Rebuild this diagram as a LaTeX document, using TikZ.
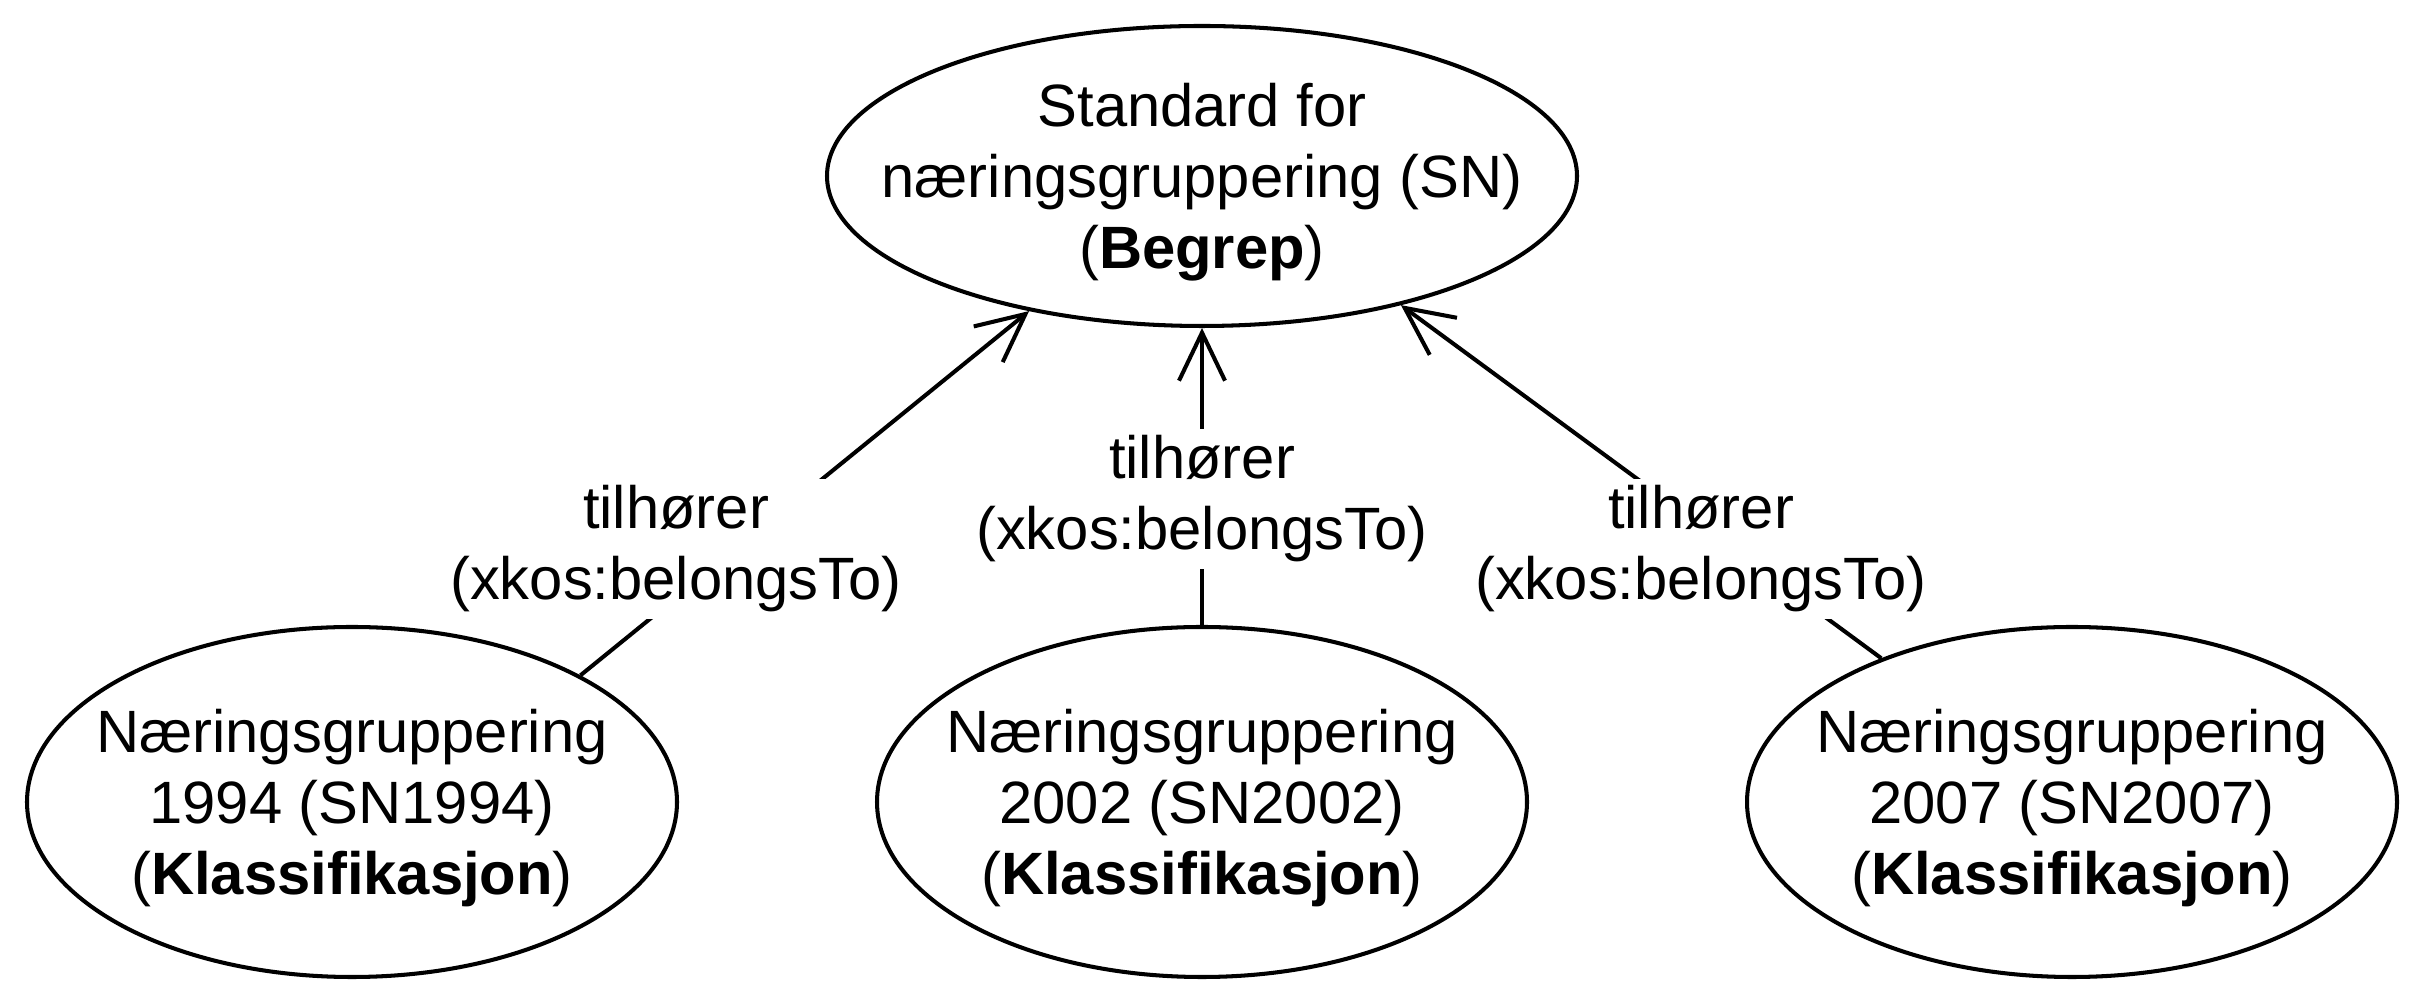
\documentclass[tikz,border=0pt]{standalone}
\usepackage{fontspec}
\setmainfont{Liberation Sans}
\usetikzlibrary{shapes.geometric}
\usetikzlibrary{arrows.meta}

\begin{document}
\begin{tikzpicture}[line width=1.15pt,
  every node/.style={font=\fontsize{17}{20.2}\selectfont, align=center},
  begrep/.style={draw, ellipse, inner sep=-1.5cm, text depth=0pt, minimum width=7.5cm, minimum height=3cm},
  klass/.style={draw, ellipse, inner sep=-1.5cm, text depth=0pt, minimum width=6.5cm, minimum height=3.5cm},
  rel/.style={fill=white, inner sep=2pt},
  belong/.style={-{Straight Barb[length=0.48cm,width=0.46cm]}}]
\useasboundingbox (0,0) rectangle (24.25,10.05);
\def\h{2.03}
\node[begrep] (s0) at (12.02, 8.29) {Standard for\\n\ae ringsgruppering (SN)\\(\textbf{Begrep})};
\node[klass] (k1) at (3.52, \h) {N\ae ringsgruppering\\1994 (SN1994)\\(\textbf{Klassifikasjon})};
\node[klass] (k2) at (12.02, \h) {N\ae ringsgruppering\\2002 (SN2002)\\(\textbf{Klassifikasjon})};
\node[klass] (k3) at (20.72, \h) {N\ae ringsgruppering\\2007 (SN2007)\\(\textbf{Klassifikasjon})};

\draw[belong] (k1.29) -- (s0.218);
\draw[belong] (k2.north) -- (s0.south);
\draw[belong] (k3.143) -- (s0.327);

\node[rel] (l1) at (6.76, 4.56) {tilhører\\(xkos:belongsTo)};
\node[rel] (l2) at (12.02, 5.06) {tilhører\\(xkos:belongsTo)};
\node[rel] (l3) at (17.01, 4.56) {tilhører\\(xkos:belongsTo)};
\end{tikzpicture}
\end{document}
